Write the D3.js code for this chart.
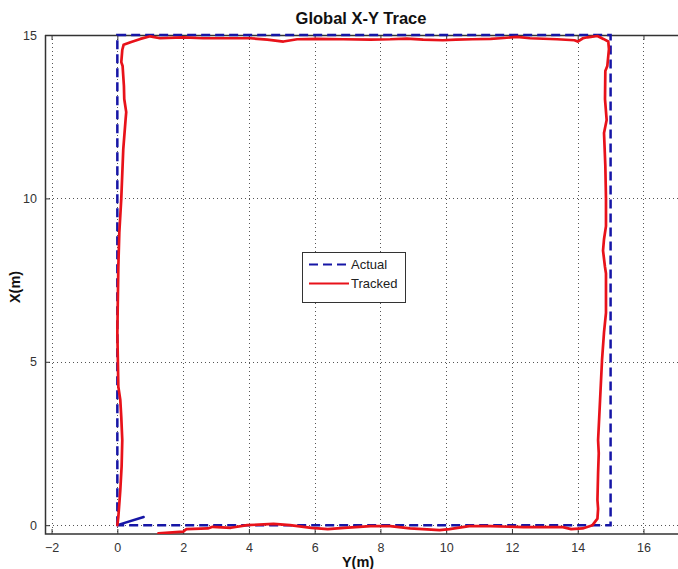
<!DOCTYPE html>
<html>
<head>
<meta charset="utf-8">
<script src="https://cdn.jsdelivr.net/npm/d3@7"></script>
<style>
  html, body { margin: 0; padding: 0; background: #fff; overflow: hidden; }
  svg { display: block; font-family: "Liberation Sans", Arial, sans-serif; }
</style>
</head>
<body>
<svg id="chart" width="678" height="569"></svg>
<script>
// Axis ticks
const xTicks = [-2, 0, 2, 4, 6, 8, 10, 12, 14, 16];
const yTicks = [0, 5, 10, 15];

// Reference path (Y, X) in metres: a 15 m square
const actualY = [0, 0, 15, 15, 0];
const actualX = [0, 15, 15, 0, 0];
// Short heading marker at the start point
const startY = [0, 0.8];
const startX = [0, 0.25];

// Tracked position (Y, X) in metres
const trackedY = [1.25, 2.0, 2.1, 2.75, 2.9, 3.45, 3.95, 4.75, 5.25, 5.9, 6.4, 6.9, 7.7, 8.3,
  8.9, 9.8, 10.1, 10.7, 11.35, 12.35, 13.55, 13.8, 14.15, 14.45, 14.6, 14.62,
  14.6, 14.62, 14.64, 14.62, 14.68, 14.74, 14.8, 14.86, 14.86, 14.83, 14.77, 14.8, 14.86,
  14.86, 14.84, 14.8, 14.88, 14.83, 14.84, 14.9, 14.95, 14.93, 14.78,
  14.6, 14.3, 14.16, 14.0, 13.9, 13.37, 12.55, 12.15, 11.65, 11.35, 10.8, 10.3, 9.9, 9.3, 8.8, 8.3,
  7.7, 6.87, 6.08, 5.47, 5.05, 4.56, 4.04, 3.34, 2.61, 2.0, 1.3, 1.0, 0.7, 0.4, 0.19, 0.15, 0.12,
  0.16, 0.2, 0.21, 0.27, 0.25, 0.18, 0.12, 0.06, 0.03, 0.0, 0.03, 0.09, 0.12, 0.15,
  0.13, 0.09, 0.03, 0.0];
const trackedX = [-0.25, -0.2, -0.12, -0.1, -0.05, -0.08, 0.0, 0.04, 0.0, -0.08, -0.12, -0.08, -0.03, -0.03,
  -0.1, -0.15, -0.12, -0.03, -0.03, -0.06, -0.06, -0.12, -0.1, 0.0, 0.2, 0.5,
  0.77, 1.6, 2.2, 2.6, 3.83, 5.06, 5.9, 6.5, 7.7, 7.9, 8.4, 8.75, 9.15,
  10.0, 11.0, 12.0, 12.4, 13.04, 13.9, 14.05, 14.57, 14.8, 14.88,
  14.97, 14.93, 14.9, 14.8, 14.84, 14.87, 14.9, 14.94, 14.9, 14.88, 14.87, 14.86, 14.84, 14.86, 14.89, 14.87,
  14.86, 14.87, 14.88, 14.87, 14.8, 14.86, 14.9, 14.9, 14.9, 14.93, 14.9, 14.96, 14.88, 14.78, 14.7, 14.54, 14.17,
  14.05, 13.44, 13.04, 12.64, 12.4, 11.5, 10.0, 8.95, 7.9, 5.9, 4.24, 3.83, 3.3, 2.6,
  1.8, 1.07, 0.25, 0.0];

const svg = d3.select("#chart");
const m = { left: 45, top: 35, right: 678, bottom: 534 };

const x = d3.scaleLinear().domain([-2.2, 17.05]).range([m.left, m.right]);
const y = d3.scaleLinear().domain([-0.27, 15]).range([m.bottom, m.top]);

// Dotted grid
const grid = svg.append("g").attr("stroke", "#555").attr("stroke-width", 1)
  .attr("stroke-dasharray", "1,3").attr("fill", "none");
xTicks.forEach(t => grid.append("line")
  .attr("x1", Math.round(x(t)) + 0.5).attr("x2", Math.round(x(t)) + 0.5)
  .attr("y1", m.top).attr("y2", m.bottom));
yTicks.forEach(t => grid.append("line")
  .attr("y1", Math.round(y(t)) + 0.5).attr("y2", Math.round(y(t)) + 0.5)
  .attr("x1", m.left).attr("x2", m.right));

// Axes with inward ticks
const axisColor = "#333";
const xAxis = svg.append("g").attr("transform", `translate(0,${m.bottom})`)
  .call(d3.axisBottom(x).tickValues(xTicks).tickSize(-5).tickPadding(9).tickFormat(d3.format("d")));
const xAxisTop = svg.append("g").attr("transform", `translate(0,${m.top})`)
  .call(d3.axisTop(x).tickValues(xTicks).tickSize(-5).tickFormat(""));
const yAxis = svg.append("g").attr("transform", `translate(${m.left},0)`)
  .call(d3.axisLeft(y).tickValues(yTicks).tickSize(-5).tickPadding(8).tickFormat(d3.format("d")));
[xAxis, xAxisTop, yAxis].forEach(g => {
  g.select(".domain").remove();
  g.selectAll(".tick line").attr("stroke", axisColor);
  g.selectAll(".tick text").attr("fill", "#333").style("font-size", "12.5px")
    .style("font-family", "Liberation Sans, Arial, sans-serif");
});
// Frame lines
svg.append("path")
  .attr("d", `M${m.left + 0.5},${m.top}V${m.bottom}H${m.right}M${m.left},${m.top + 0.5}H${m.right}`)
  .attr("stroke", axisColor).attr("stroke-width", 1.5).attr("fill", "none");

// Plot clip
svg.append("clipPath").attr("id", "clip").append("rect")
  .attr("x", m.left).attr("y", m.top - 3).attr("width", m.right - m.left).attr("height", m.bottom - m.top + 3);
const plot = svg.append("g").attr("clip-path", "url(#clip)");

const line = d3.line();
const blue = "#1616a6";
const red = "#e8121a";

plot.append("path")
  .attr("d", line(actualY.map((v, i) => [x(v), y(actualX[i])])))
  .attr("fill", "none").attr("stroke", blue).attr("stroke-width", 2.5)
  .attr("stroke-dasharray", "9,5");
plot.append("path")
  .attr("d", line(startY.map((v, i) => [x(v), y(startX[i])])))
  .attr("fill", "none").attr("stroke", blue).attr("stroke-width", 2.5).attr("stroke-linecap", "round");
plot.append("path")
  .attr("d", line(trackedY.map((v, i) => [x(v), y(trackedX[i])])))
  .attr("fill", "none").attr("stroke", red).attr("stroke-width", 2.7)
  .attr("stroke-linejoin", "round").attr("stroke-linecap", "round");

// Legend
const lg = svg.append("g").attr("transform", "translate(302,252)");
lg.append("rect").attr("x", 0.5).attr("y", 0.5).attr("width", 103).attr("height", 50)
  .attr("fill", "#fff").attr("stroke", "#333").attr("stroke-width", 1);
lg.append("line").attr("x1", 7).attr("x2", 47).attr("y1", 12.5).attr("y2", 12.5)
  .attr("stroke", blue).attr("stroke-width", 2).attr("stroke-dasharray", "9,5");
lg.append("line").attr("x1", 7).attr("x2", 47).attr("y1", 31.5).attr("y2", 31.5)
  .attr("stroke", red).attr("stroke-width", 2);
lg.append("text").attr("x", 49).attr("y", 17).text("Actual")
  .style("font-size", "13px").attr("fill", "#222");
lg.append("text").attr("x", 49).attr("y", 36).text("Tracked")
  .style("font-size", "13px").attr("fill", "#222");

// Titles
svg.append("text").attr("x", 361).attr("y", 24).attr("text-anchor", "middle")
  .style("font-weight", "bold").style("font-size", "16.5px").attr("fill", "#111")
  .text("Global X-Y Trace");
svg.append("text").attr("x", 358).attr("y", 567).attr("text-anchor", "middle")
  .style("font-weight", "bold").style("font-size", "14.5px").attr("fill", "#111")
  .text("Y(m)");
svg.append("text").attr("transform", "translate(20,287) rotate(-90)").attr("text-anchor", "middle")
  .style("font-weight", "bold").style("font-size", "14.5px").attr("fill", "#111")
  .text("X(m)");
</script>
</body>
</html>
